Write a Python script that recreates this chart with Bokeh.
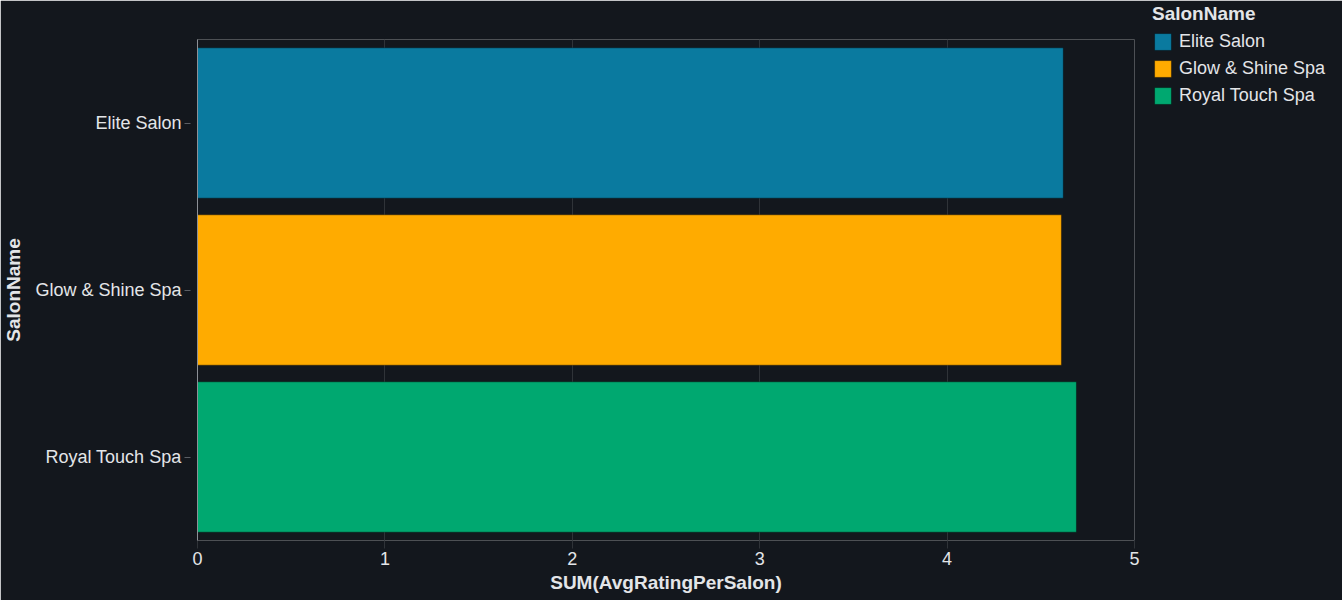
from bokeh.plotting import figure
from bokeh.models import ColumnDataSource, FactorRange, Range1d, Legend, LegendItem, FixedTicker
from bokeh.embed import file_html
from bokeh.resources import INLINE

salons = ["Elite Salon", "Glow & Shine Spa", "Royal Touch Spa"]
ratings = [4.62, 4.61, 4.69]
colors = ["#0a7a9f", "#ffab00", "#00a870"]
x_ticks = [0, 1, 2, 3, 4, 5]

BG = "#13171d"
TXT = "#e3e5e8"
GRID = "#2f3338"
FONT = "Liberation Sans"

src = ColumnDataSource(dict(SalonName=salons, rating=ratings, color=colors))

p = figure(
    frame_width=937, frame_height=501,
    y_range=FactorRange(factors=list(reversed(salons)), range_padding=0),
    x_range=Range1d(0, 5),
    output_backend="svg", toolbar_location=None,
    background_fill_color=BG, border_fill_color=BG,
    min_border_left=197, min_border_right=208, min_border_top=39, min_border_bottom=60,
)
p.outline_line_color = None

r = p.hbar(y="SalonName", right="rating", left=0, height=0.9, source=src,
           fill_color="color", line_color="#000000", line_alpha=0.35, line_width=1)

# x axis
xa = p.xaxis[0]
xa.ticker = FixedTicker(ticks=x_ticks)
xa.axis_line_color = None
xa.major_tick_line_color = GRID
xa.major_tick_in = 0
xa.major_tick_out = 8
xa.minor_tick_line_color = None
xa.major_label_text_color = TXT
xa.major_label_text_font = FONT
xa.major_label_text_font_size = "18px"
xa.major_label_standoff = 3
xa.axis_label = "SUM(AvgRatingPerSalon)"
xa.axis_label_text_color = TXT
xa.axis_label_text_font = FONT
xa.axis_label_text_font_size = "19px"
xa.axis_label_text_font_style = "bold"
xa.axis_label_standoff = 4

# y axis
ya = p.yaxis[0]
ya.axis_line_color = "#8c9096"
ya.major_tick_line_color = "#5a5e64"
ya.major_tick_in = -7
ya.major_tick_out = 13
ya.minor_tick_line_color = None
ya.major_label_text_color = TXT
ya.major_label_text_font = FONT
ya.major_label_text_font_size = "18px"
ya.major_label_standoff = 3
ya.axis_label = "SalonName"
ya.axis_label_text_color = TXT
ya.axis_label_text_font = FONT
ya.axis_label_text_font_size = "19px"
ya.axis_label_text_font_style = "bold"
ya.axis_label_standoff = 8

p.xgrid.grid_line_color = GRID
p.ygrid.grid_line_color = None

items = [LegendItem(label=s, renderers=[r], index=i) for i, s in enumerate(salons)]
legend = Legend(
    items=items, location=(18, 434),
    title="SalonName", title_text_font=FONT, title_text_font_size="19px",
    title_text_font_style="bold", title_text_color=TXT, title_standoff=6,
    label_text_font=FONT, label_text_font_size="18px", label_text_color=TXT,
    glyph_width=21, glyph_height=21, label_height=21, spacing=6, label_standoff=6,
    padding=0, margin=0, border_line_color=None, background_fill_alpha=0,
)
p.add_layout(legend, "right")

open("out.html", "w").write(file_html(p, INLINE))
